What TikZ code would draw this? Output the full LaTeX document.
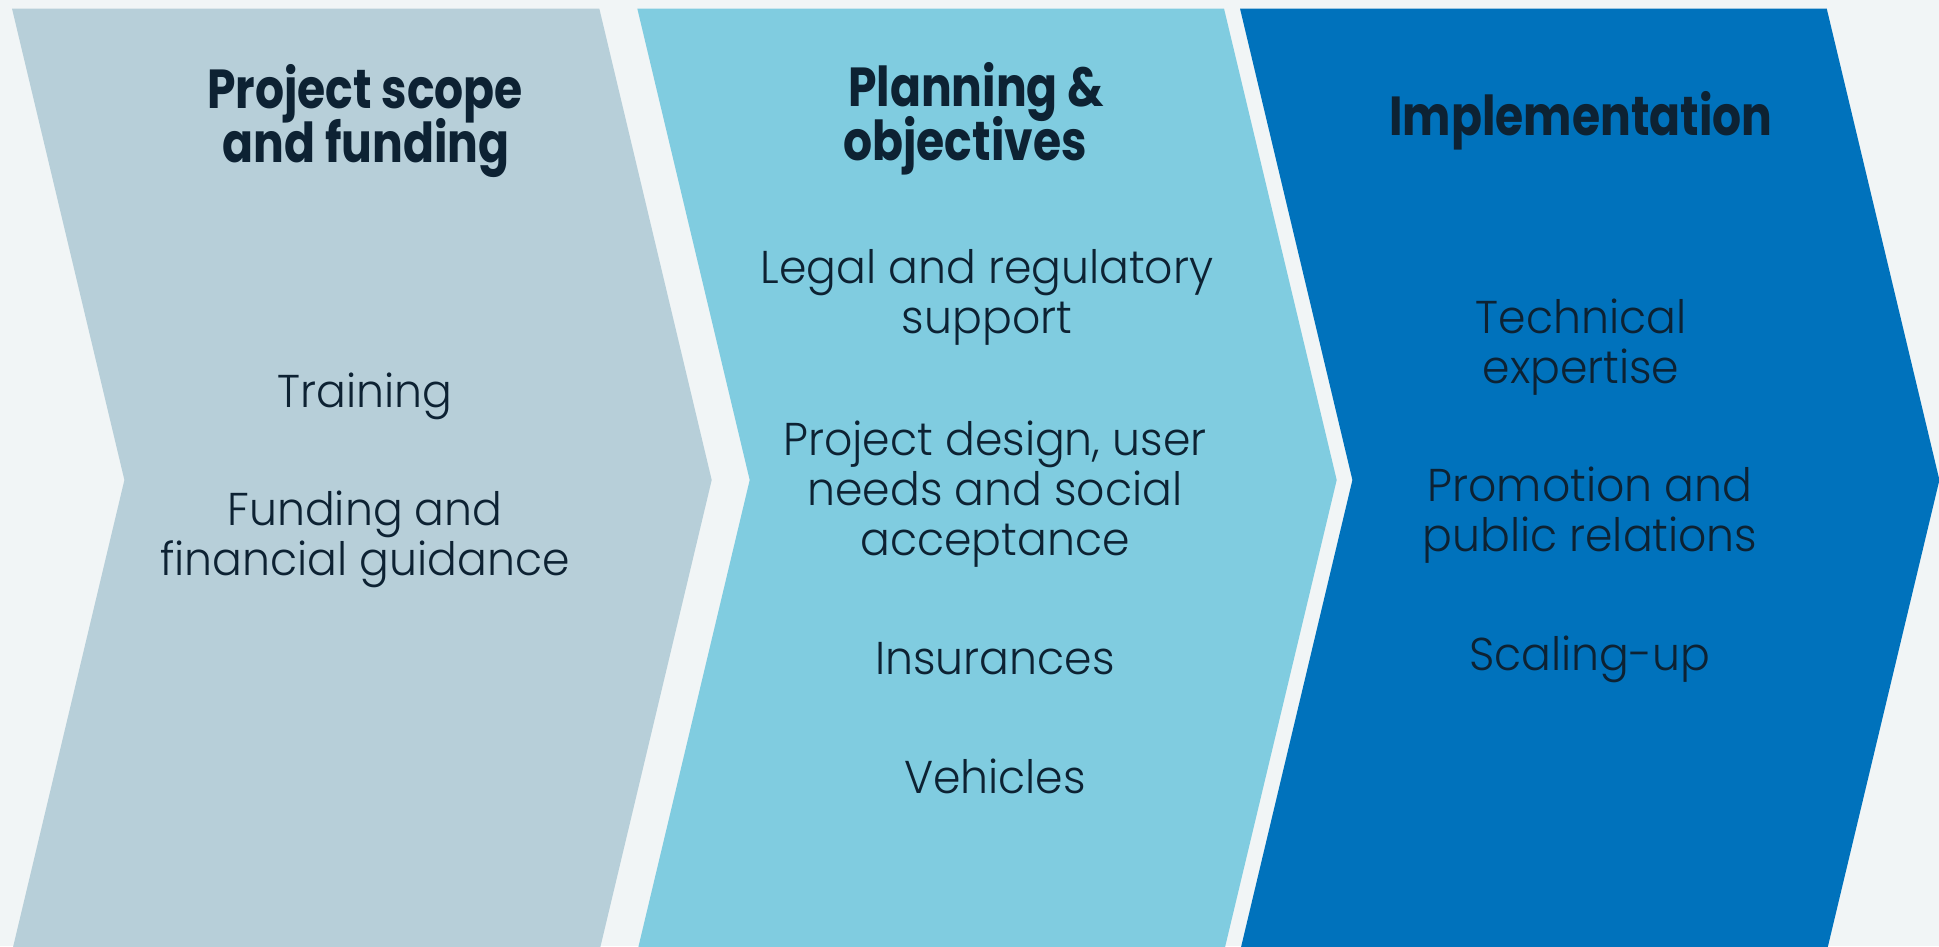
\documentclass[tikz,border=0pt]{standalone}
\usepackage{fontspec}
\newfontfamily\titlefont{Poppins}[UprightFont=* Bold, FakeStretch=0.83]
\newfontfamily\bodyfont{Poppins}[UprightFont=* Light, FakeStretch=0.96]
\definecolor{bgc}{HTML}{F1F5F6}
\definecolor{cone}{HTML}{B7CFD9}
\definecolor{ctwo}{HTML}{80CCE0}
\definecolor{cthree}{HTML}{0072BC}
\definecolor{tc}{HTML}{0D2233}
\begin{document}
\begin{tikzpicture}[x=1pt,y=-1pt,
  titletext/.style={font=\titlefont\fontsize{55}{60}\selectfont, text=tc, anchor=base, inner sep=0pt},
  bodytext/.style={font=\bodyfont\fontsize{46}{50}\selectfont, text=tc, anchor=base, inner sep=0pt}]
\useasboundingbox (0,0) rectangle (1939,946);
\clip (0,0) rectangle (1939,946);
\fill[bgc] (0,0) rectangle (1939,946);
% chevrons
\fill[cone] (12,8.5) -- (599.3,8.5) -- (711.7,480) -- (599.3,951.5) -- (12,951.5) -- (124.4,480) -- cycle;
\fill[ctwo] (637.3,8.5) -- (1224,8.5) -- (1336.7,480) -- (1224,951.5) -- (637.3,951.5) -- (749.7,480) -- cycle;
\fill[cthree] (1240,8.5) -- (1826.7,8.5) -- (1939.4,480) -- (1826.7,951.5) -- (1240,951.5) -- (1352.4,480) -- cycle;
% chevron 1
\node[titletext] (h1a) at (365,108) {Project scope};
\node[titletext] (h1b) at (366,162) {and funding};
\node[bodytext] (b1a) at (365,407) {Training};
\node[bodytext] (b1b) at (365,525) {Funding and};
\node[bodytext] (b1c) at (365,575) {financial guidance};
% chevron 2
\node[titletext] (h2a) at (976,106) {Planning \&};
\node[titletext] (h2b) at (965,160) {objectives};
\node[bodytext] (b2a) at (987,283) {Legal and regulatory};
\node[bodytext] (b2b) at (987,333) {support};
\node[bodytext] (b2c) at (995,455) {Project design, user};
\node[bodytext] (b2d) at (995,505) {needs and social};
\node[bodytext] (b2e) at (995,555) {acceptance};
\node[bodytext] (b2f) at (995,674) {Insurances};
\node[bodytext] (b2g) at (995,793) {Vehicles};
% chevron 3
\node[titletext] (h3a) at (1581,135) {Implementation};
\node[bodytext] (b3a) at (1581,333) {Technical};
\node[bodytext] (b3b) at (1581,383) {expertise};
\node[bodytext] (b3c) at (1590,501) {Promotion and};
\node[bodytext] (b3d) at (1590,551) {public relations};
\node[bodytext] (b3e) at (1590,670) {Scaling-up};
\end{tikzpicture}
\end{document}
